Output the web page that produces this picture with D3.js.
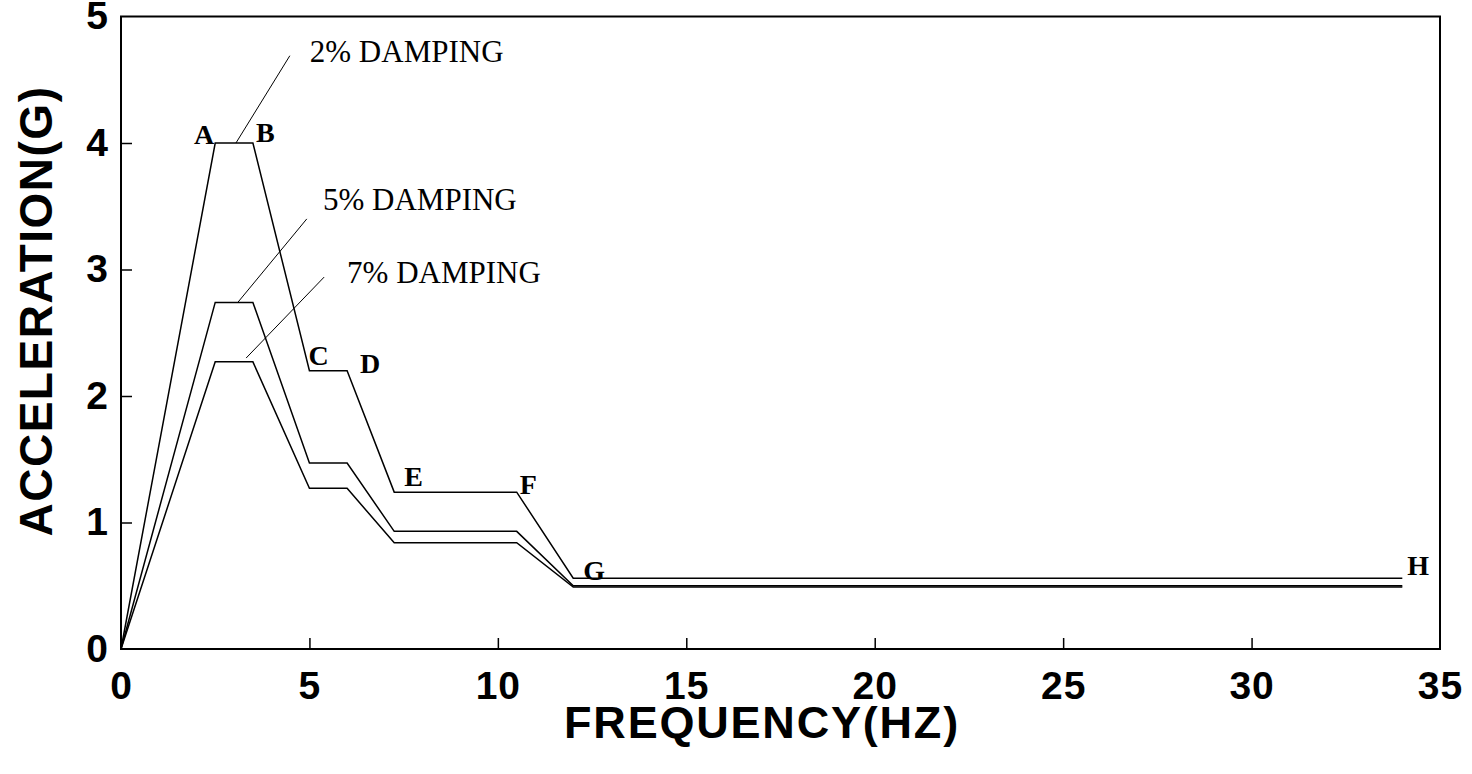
<!DOCTYPE html>
<html>
<head>
<meta charset="utf-8">
<script src="https://cdn.jsdelivr.net/npm/d3@7"></script>
<style>
  html, body { margin: 0; padding: 0; background: #fff; }
  svg { display: block; }
</style>
</head>
<body>
<svg id="chart" width="1472" height="774"></svg>
<script>
// ---- Data ----
const freqPoints = [0, 2.5, 3.5, 5, 6, 7.25, 10.5, 12, 34];
const damping2 = [0, 4.0, 4.0, 2.2, 2.2, 1.24, 1.24, 0.56, 0.56];
const damping5 = [0, 2.74, 2.74, 1.47, 1.47, 0.93, 0.93, 0.50, 0.50];
const damping7 = [0, 2.27, 2.27, 1.27, 1.27, 0.84, 0.84, 0.49, 0.49];
const pointLetters = ["", "A", "B", "C", "D", "E", "F", "G", "H"];
const xTicks = [0, 5, 10, 15, 20, 25, 30, 35];
const yTicks = [0, 1, 2, 3, 4, 5];
const seriesNames = ["2% DAMPING", "5% DAMPING", "7% DAMPING"];
// label anchor (freq, accel) and leader line ends (freq, accel)
const labelPos = [[5.01, 4.64], [5.36, 3.47], [6.0, 2.89]];
const leaderStart = [[4.48, 4.69], [4.93, 3.40], [5.39, 2.94]];
const leaderEnd = [[3.05, 4.00], [3.10, 2.74], [3.32, 2.30]];

(function () {
// ---- Layout ----
const svg = d3.select("#chart");
const mLeft = 121, mRight = 1440, mTop = 16.5, mBottom = 649;
const x = d3.scaleLinear().domain([0, 35]).range([mLeft, mRight]);
const y = d3.scaleLinear().domain([0, 5]).range([mBottom, mTop]);

const axisFont = "'Liberation Sans', Arial, Helvetica, sans-serif";
const serif = "'Liberation Serif', 'Times New Roman', Times, serif";

// Frame
svg.append("rect")
  .attr("x", mLeft).attr("y", mTop)
  .attr("width", mRight - mLeft).attr("height", mBottom - mTop)
  .attr("fill", "none").attr("stroke", "#000").attr("stroke-width", 2);

// Ticks inward (left & bottom)
const gx = svg.append("g").attr("transform", `translate(0,${mBottom})`)
  .call(d3.axisBottom(x).tickValues(xTicks).tickFormat(d3.format("d"))
    .tickSizeInner(-11).tickSizeOuter(0).tickPadding(22));
const gy = svg.append("g").attr("transform", `translate(${mLeft},0)`)
  .call(d3.axisLeft(y).tickValues(yTicks).tickFormat(d3.format("d"))
    .tickSizeInner(-11).tickSizeOuter(0).tickPadding(12));
[gx, gy].forEach(g => {
  g.select(".domain").remove();
  g.selectAll(".tick line").attr("stroke", "#000").attr("stroke-width", 1.5);
  g.selectAll(".tick text")
    .attr("fill", "#000")
    .style("font-family", axisFont)
    .style("font-weight", "bold")
    .style("font-size", "39px")
    .style("letter-spacing", "1px");
});
gx.selectAll(".tick line").filter(d => d === 0 || d === 35).remove();
gy.selectAll(".tick line").filter(d => d === 0 || d === 5).remove();

// Axis titles
svg.append("text")
  .attr("x", 762).attr("y", 738)
  .attr("text-anchor", "middle")
  .style("font-family", axisFont).style("font-weight", "bold").style("font-size", "45px")
  .style("letter-spacing", "1.8px")
  .text("FREQUENCY(HZ)");
svg.append("text")
  .attr("transform", "translate(52,311) rotate(-90)")
  .attr("text-anchor", "middle")
  .style("font-family", axisFont).style("font-weight", "bold").style("font-size", "46px")
  .style("letter-spacing", "1.5px")
  .text("ACCELERATION(G)");

// Curves
const line = d3.line().x(d => x(d[0])).y(d => y(d[1]));
[damping2, damping5, damping7].forEach(vals => {
  svg.append("path")
    .datum(freqPoints.map((f, i) => [f, vals[i]]))
    .attr("d", line)
    .attr("fill", "none")
    .attr("stroke", "#000")
    .attr("stroke-width", 1.5)
    .attr("stroke-linejoin", "miter");
});

// Leader lines
seriesNames.forEach((name, i) => {
  svg.append("line")
    .attr("x1", x(leaderStart[i][0])).attr("y1", y(leaderStart[i][1]))
    .attr("x2", x(leaderEnd[i][0])).attr("y2", y(leaderEnd[i][1]))
    .attr("stroke", "#000").attr("stroke-width", 1);
  svg.append("text")
    .attr("x", x(labelPos[i][0])).attr("y", y(labelPos[i][1]))
    .style("font-family", serif).style("font-size", "31px")
    .text(name);
});

// Point letters on the 2% curve (offsets in px relative to the point)
const letterOffsets = {
  A: [-1, 1, "end"], B: [3, -1, "start"], C: [-1, -6, "start"], D: [13, 2, "start"],
  E: [10, -6, "start"], F: [3, 2, "start"], G: [10, 2, "start"], H: [5, -3, "start"]
};
pointLetters.forEach((L, i) => {
  if (!L) return;
  const o = letterOffsets[L];
  svg.append("text")
    .attr("x", x(freqPoints[i]) + o[0])
    .attr("y", y(damping2[i]) + o[1])
    .attr("text-anchor", o[2])
    .style("font-family", serif).style("font-weight", "bold").style("font-size", "28px")
    .text(L);
});
})();
</script>
</body>
</html>
